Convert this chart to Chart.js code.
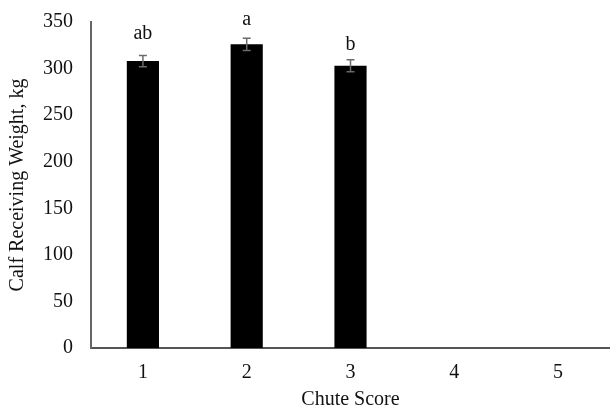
<!DOCTYPE html>
<html>
<head>
<meta charset="utf-8">
<script src="https://cdn.jsdelivr.net/npm/chart.js@4"></script>
<style>
  body { margin: 0; background: #fff; }
  canvas { display: block; }
</style>
</head>
<body>
<canvas id="myChart" width="610" height="412"></canvas>
<script>
"use strict";

const chuteScores = ["1", "2", "3", "4", "5"];
const receivingWeight = [308, 326, 303, null, null];
const weightError = [6, 6.5, 6.5, null, null];
const sigLetters = ["ab", "a", "b", "", ""];
const yTicks = [0, 50, 100, 150, 200, 250, 300, 350];

const serif = "'Liberation Serif', 'Times New Roman', serif";
const letterGap = [17, 13, 10, 0, 0];

// error bars + significance letters
const errorBarPlugin = {
	id: "errorBars",
	afterDatasetsDraw(chart) {
		const ctx = chart.ctx;
		const x = chart.scales.x;
		const y = chart.scales.y;
		ctx.save();
		receivingWeight.forEach(function (val, i) {
			if (val === null) return;
			const px = x.getPixelForValue(i);
			const top = y.getPixelForValue(val + weightError[i]);
			const bottom = y.getPixelForValue(val - weightError[i]);
			ctx.strokeStyle = "#6b6b6b";
			ctx.lineWidth = 1.5;
			ctx.beginPath();
			ctx.moveTo(px, top);
			ctx.lineTo(px, bottom);
			ctx.moveTo(px - 4, top);
			ctx.lineTo(px + 4, top);
			ctx.moveTo(px - 4, bottom);
			ctx.lineTo(px + 4, bottom);
			ctx.stroke();

			ctx.fillStyle = "#111";
			ctx.font = "20px " + serif;
			ctx.textAlign = "center";
			ctx.textBaseline = "alphabetic";
			ctx.fillText(sigLetters[i], px, top - letterGap[i]);
		});
		ctx.restore();
	},
};

new Chart(document.getElementById("myChart"), {
	type: "bar",
	data: {
		labels: chuteScores,
		datasets: [
			{
				data: receivingWeight,
				backgroundColor: "#000",
				borderWidth: 0,
				barPercentage: 0.31,
				categoryPercentage: 1,
			},
		],
	},
	options: {
		responsive: false,
		animation: false,
		layout: { padding: { top: 22, right: 0, left: 0, bottom: 0 } },
		plugins: {
			legend: { display: false },
			tooltip: { enabled: false },
		},
		scales: {
			x: {
				grid: { display: false, drawTicks: false },
				border: { color: "#555", width: 2 },
				ticks: {
					color: "#111",
					font: { family: serif, size: 20 },
					padding: 13,
				},
				title: {
					display: true,
					text: "Chute Score",
					color: "#111",
					font: { family: serif, size: 20 },
					padding: { top: 0, bottom: 0 },
				},
				afterFit(scale) {
					scale.height = 64;
					scale.paddingLeft = 0;
					scale.paddingRight = 0;
				},
			},
			y: {
				min: 0,
				max: 350,
				grid: { display: false, drawTicks: false },
				border: { color: "#666", width: 2 },
				afterBuildTicks(scale) {
					scale.ticks = yTicks.map(function (v) {
						return { value: v };
					});
				},
				ticks: {
					color: "#111",
					font: { family: serif, size: 20 },
					padding: 18,
				},
				title: {
					display: true,
					text: "Calf Receiving Weight, kg",
					color: "#111",
					font: { family: serif, size: 20 },
					padding: { top: 6, bottom: 0 },
				},
				afterFit(scale) {
					scale.width = 91;
					scale.paddingTop = 0;
					scale.paddingBottom = 0;
				},
			},
		},
	},
	plugins: [errorBarPlugin],
});
</script>
</body>
</html>
